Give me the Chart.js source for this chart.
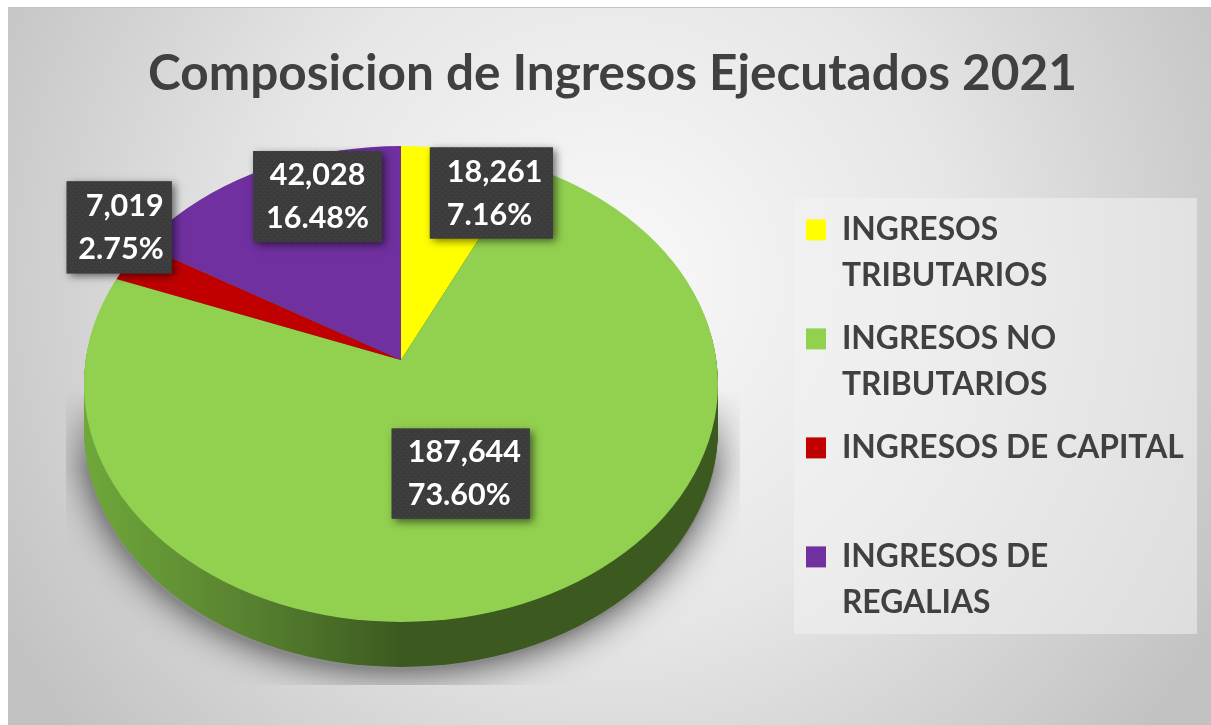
<!DOCTYPE html>
<html>
<head>
<meta charset="utf-8">
<title>Composicion de Ingresos Ejecutados 2021</title>
<script src="https://cdn.jsdelivr.net/npm/chart.js@4"></script>
<style>
  html, body { margin: 0; padding: 0; background: #fff; overflow: hidden; }
  #wrap { position: relative; width: 1211px; height: 725px; }
</style>
</head>
<body>
<div id="wrap"><canvas id="pie" width="1211" height="725"></canvas></div>
<script>
//values
const title_text = 'Composicion de Ingresos Ejecutados 2021';
const categories = [
  ['INGRESOS', 'TRIBUTARIOS'],
  ['INGRESOS NO', 'TRIBUTARIOS'],
  ['INGRESOS DE CAPITAL', ''],
  ['INGRESOS DE', 'REGALIAS']
];
const values = [18261, 187644, 7019, 42028];
const value_labels = ['18,261', '187,644', '7,019', '42,028'];
const percent_labels = ['7.16%', '73.60%', '2.75%', '16.48%'];
const colors = ['#ffff00', '#92d050', '#c00000', '#7030a0'];

//excel's 3d pie has its tip above the middle of the visible ellipse, so
//the slices are drawn oversized around the tip and cut to that ellipse
const squash = 0.751;
const depth = 45;
const face = { x: 401, y: 384, rx: 317, ry: 238 };
const tip = { x: 401, y: 360, r: 400 };
const font_name = 'Lato, "Open Sans", sans-serif';

//label boxes, placed relative to the middle of each slice
const label_boxes = [
  { dx: 55, dy: -51, w: 123, h: 91, align: 'left', pad: 17 },
  { dx: 1, dy: 3, w: 138, h: 90, align: 'left', pad: 16 },
  { dx: -139, dy: -81, w: 105, h: 92, align: 'right', pad: 8 },
  { dx: -5, dy: -60, w: 129, h: 91, align: 'center', pad: 0 }
];

function dotPattern(ctx) {
  const c = document.createElement('canvas');
  c.width = 6;
  c.height = 6;
  const p = c.getContext('2d');
  p.fillStyle = '#3c3c3c';
  p.fillRect(0, 0, 6, 6);
  p.fillStyle = '#4a4a4a';
  p.fillRect(1, 1, 1, 1);
  p.fillRect(4, 4, 1, 1);
  return ctx.createPattern(c, 'repeat');
}

//soft shadow on its own canvas, so it can fade out towards the top
function pieShadow(chart) {
  const c = document.createElement('canvas');
  c.width = chart.width;
  c.height = chart.height;
  const s = c.getContext('2d');
  s.beginPath();
  s.rect(66, 390, 674, 295);
  s.clip();
  s.shadowColor = 'rgba(0,0,0,0.75)';
  s.shadowBlur = 38;
  s.fillStyle = '#8a8a8a';
  s.beginPath();
  s.ellipse(face.x, face.y + depth + 3, face.rx, face.ry, 0, 0, Math.PI * 2);
  s.fill();
  s.globalCompositeOperation = 'destination-in';
  const fade = s.createLinearGradient(0, 390, 0, 470);
  fade.addColorStop(0, 'rgba(0,0,0,0)');
  fade.addColorStop(1, 'rgba(0,0,0,1)');
  s.fillStyle = fade;
  s.shadowColor = 'transparent';
  s.fillRect(0, 0, c.width, c.height);
  return c;
}

//places the pie and the legend where excel had them
const placement = {
  id: 'placement',
  afterLayout(chart) {
    chart.chartArea = {
      left: tip.x - tip.r,
      right: tip.x + tip.r,
      top: tip.y - tip.r,
      bottom: tip.y + tip.r,
      width: tip.r * 2,
      height: tip.r * 2
    };
    const legend = chart.legend;
    legend.left = 789;
    legend.right = 1200;
    legend.top = 197;
    legend.bottom = 640;
  }
};

//background, legend panel
const backdrop = {
  id: 'backdrop',
  beforeDraw(chart) {
    const ctx = chart.ctx;
    ctx.save();
    ctx.fillStyle = '#fff';
    ctx.fillRect(0, 0, chart.width, chart.height);
    const g = ctx.createRadialGradient(610, 280, 60, 610, 280, 700);
    g.addColorStop(0, '#f6f6f6');
    g.addColorStop(0.45, '#e6e6e6');
    g.addColorStop(1, '#c2c2c2');
    ctx.fillStyle = '#c4c4c4';
    ctx.fillRect(8, 7, chart.width - 8, 1);
    ctx.fillStyle = g;
    ctx.fillRect(8, 8, chart.width - 8, chart.height - 8);
    ctx.fillStyle = 'rgba(242,242,242,0.55)';
    ctx.fillRect(794, 198, 403, 436);
    ctx.restore();
  }
};

//shadow and rim go under the slices, then the slices are drawn squashed
const pie3d = {
  id: 'pie3d',
  beforeDatasetsDraw(chart) {
    const ctx = chart.ctx;

    ctx.drawImage(pieShadow(chart), 0, 0);

    const rim = ctx.createLinearGradient(face.x - face.rx, 0, face.x, 0);
    rim.addColorStop(0, '#6fa83a');
    rim.addColorStop(0.55, '#567f2f');
    rim.addColorStop(1, '#3c5a20');
    ctx.save();
    ctx.fillStyle = rim;
    for (let d = depth; d > 0; d--) {
      ctx.beginPath();
      ctx.ellipse(face.x, face.y + d, face.rx, face.ry, 0, 0, Math.PI * 2);
      ctx.fill();
    }
    ctx.restore();

    ctx.save();
    ctx.beginPath();
    ctx.ellipse(face.x, face.y, face.rx, face.ry, 0, 0, Math.PI * 2);
    ctx.clip();
    ctx.translate(0, tip.y);
    ctx.scale(1, squash);
    ctx.translate(0, -tip.y);
  },
  afterDatasetsDraw(chart) {
    const ctx = chart.ctx;
    ctx.restore();

    const arcs = chart.getDatasetMeta(0).data;
    const pattern = dotPattern(ctx);
    arcs.forEach((arc, i) => {
      const box = label_boxes[i];
      const mid = (arc.startAngle + arc.endAngle) / 2;
      const bx = arc.x + Math.cos(mid) * face.rx / 2 + box.dx;
      const by = arc.y + Math.sin(mid) * face.rx / 2 * squash + box.dy;
      const left = bx - box.w / 2;
      const top = by - box.h / 2;

      ctx.save();
      ctx.shadowColor = 'rgba(0,0,0,0.55)';
      ctx.shadowBlur = 8;
      ctx.shadowOffsetX = 3;
      ctx.shadowOffsetY = 3;
      ctx.fillStyle = '#3f3f3f';
      ctx.fillRect(left, top, box.w, box.h);
      ctx.restore();

      ctx.save();
      ctx.fillStyle = pattern;
      ctx.fillRect(left, top, box.w, box.h);
      ctx.fillStyle = '#fff';
      ctx.font = 'bold 30.5px ' + font_name;
      ctx.textBaseline = 'middle';
      ctx.textAlign = box.align;
      let tx = bx;
      if (box.align === 'left') tx = left + box.pad;
      if (box.align === 'right') tx = left + box.w - box.pad;
      ctx.fillText(value_labels[i], tx, by - 21);
      ctx.fillText(percent_labels[i], tx, by + 22);
      ctx.restore();
    });
  }
};

const pie_chart = new Chart(document.getElementById('pie'), {
  type: 'pie',
  data: {
    labels: categories,
    datasets: [{
      data: values,
      backgroundColor: colors,
      borderWidth: 0,
      clip: false
    }]
  },
  plugins: [backdrop, placement, pie3d],
  options: {
    responsive: false,
    animation: false,
    layout: { padding: { left: 14 } },
    plugins: {
      tooltip: { enabled: false },
      title: {
        display: true,
        text: title_text,
        color: '#404040',
        font: { family: font_name, size: 49.5, weight: 'bold' },
        padding: { top: 44, bottom: 10 }
      },
      legend: {
        display: true,
        position: 'right',
        align: 'start',
        labels: {
          color: '#404040',
          boxWidth: 20,
          boxHeight: 21,
          padding: 17,
          font: { family: font_name, size: 31.8, weight: 'bold', lineHeight: 46 / 31.8 }
        }
      }
    }
  }
});
</script>
</body>
</html>
